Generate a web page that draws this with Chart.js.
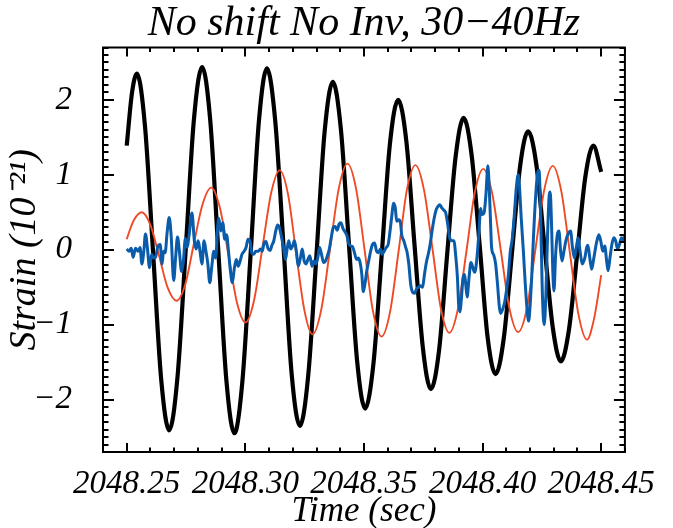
<!DOCTYPE html>
<html>
<head>
<meta charset="utf-8">
<script src="https://cdn.jsdelivr.net/npm/chart.js@4.4.1/dist/chart.umd.min.js"></script>
<style>
  html, body { margin: 0; padding: 0; background: #fff; }
</style>
</head>
<body>
<canvas id="myChart" width="673" height="528"></canvas>
<script>
// tick labels
const xTicks = [2048.25, 2048.30, 2048.35, 2048.40, 2048.45];
const yTicks = [-2, -1, 0, 1, 2];

// black curve
const blackTime = [
  2048.2500, 2048.2522, 2048.2543, 2048.2577, 2048.2611, 2048.2645, 2048.2679, 2048.2714, 2048.2749, 2048.2783,
  2048.2818, 2048.2852, 2048.2886, 2048.2920, 2048.2954, 2048.2988, 2048.3023, 2048.3057, 2048.3091, 2048.3126,
  2048.3161, 2048.3195, 2048.3230, 2048.3265, 2048.3300, 2048.3334, 2048.3369, 2048.3403, 2048.3437, 2048.3471,
  2048.3505, 2048.3540, 2048.3575, 2048.3609, 2048.3644, 2048.3679, 2048.3713, 2048.3748, 2048.3782, 2048.3817,
  2048.3851, 2048.3886, 2048.3920, 2048.3954, 2048.3988, 2048.4021, 2048.4055, 2048.4089, 2048.4124, 2048.4158,
  2048.4192, 2048.4227, 2048.4261, 2048.4296, 2048.4330, 2048.4364, 2048.4399, 2048.4433, 2048.4467, 2048.4500
];
const blackStrain = [
  1.39, 2.09, 2.35, 1.65, -0.03, -1.72, -2.41, -1.70, 0.02, 1.73,
  2.44, 1.73, -0.01, -1.74, -2.45, -1.74, -0.02, 1.71, 2.42, 1.72,
  0.04, -1.65, -2.35, -1.68, -0.06, 1.57, 2.24, 1.60, 0.06, -1.48,
  -2.12, -1.52, -0.06, 1.40, 2.00, 1.44, 0.07, -1.30, -1.86, -1.33,
  -0.05, 1.23, 1.76, 1.26, 0.05, -1.16, -1.66, -1.19, -0.04, 1.11,
  1.58, 1.13, 0.05, -1.04, -1.49, -1.07, -0.05, 0.97, 1.39, 1.04
];

// red curve
const redTime = [
  2048.2500, 2048.2515, 2048.2531, 2048.2563, 2048.2600, 2048.2637, 2048.2673, 2048.2710, 2048.2747, 2048.2783,
  2048.2820, 2048.2856, 2048.2892, 2048.2929, 2048.2965, 2048.3001, 2048.3037, 2048.3073, 2048.3109, 2048.3145,
  2048.3180, 2048.3214, 2048.3249, 2048.3283, 2048.3320, 2048.3357, 2048.3394, 2048.3431, 2048.3467, 2048.3503,
  2048.3538, 2048.3574, 2048.3610, 2048.3646, 2048.3681, 2048.3717, 2048.3753, 2048.3789, 2048.3824, 2048.3860,
  2048.3896, 2048.3932, 2048.3967, 2048.4003, 2048.4040, 2048.4077, 2048.4113, 2048.4150, 2048.4187, 2048.4223,
  2048.4260, 2048.4296, 2048.4332, 2048.4368, 2048.4404, 2048.4440, 2048.4470, 2048.4500
];
const redStrain = [
  0.14, 0.28, 0.40, 0.50, 0.33, -0.09, -0.51, -0.68, -0.46, 0.08,
  0.61, 0.83, 0.57, -0.07, -0.71, -0.97, -0.67, 0.05, 0.76, 1.06,
  0.74, -0.04, -0.81, -1.13, -0.80, 0.01, 0.82, 1.15, 0.81, -0.01,
  -0.82, -1.16, -0.83, -0.02, 0.80, 1.13, 0.80, 0.01, -0.78, -1.11,
  -0.79, -0.02, 0.76, 1.08, 0.76, -0.01, -0.78, -1.10, -0.78, 0.01,
  0.80, 1.12, 0.78, -0.04, -0.86, -1.20, -0.92, -0.34
];

// blue curve
const blueTime = [
  2048.2500, 2048.2510, 2048.2519, 2048.2527, 2048.2537, 2048.2548, 2048.2556, 2048.2564, 2048.2572, 2048.2579,
  2048.2587, 2048.2596, 2048.2605, 2048.2613, 2048.2621, 2048.2632, 2048.2641, 2048.2649, 2048.2655, 2048.2662,
  2048.2670, 2048.2679, 2048.2687, 2048.2698, 2048.2706, 2048.2714, 2048.2722, 2048.2731, 2048.2739, 2048.2747,
  2048.2755, 2048.2763, 2048.2775, 2048.2785, 2048.2793, 2048.2801, 2048.2809, 2048.2817, 2048.2826, 2048.2834,
  2048.2842, 2048.2850, 2048.2858, 2048.2867, 2048.2875, 2048.2883, 2048.2888, 2048.2896, 2048.2905, 2048.2913,
  2048.2921, 2048.2929, 2048.2937, 2048.2945, 2048.2954, 2048.2962, 2048.2970, 2048.2978, 2048.2986, 2048.2995,
  2048.3003, 2048.3011, 2048.3019, 2048.3027, 2048.3035, 2048.3044, 2048.3055, 2048.3063, 2048.3071, 2048.3079,
  2048.3087, 2048.3095, 2048.3104, 2048.3112, 2048.3120, 2048.3128, 2048.3136, 2048.3144, 2048.3153, 2048.3161,
  2048.3169, 2048.3177, 2048.3183, 2048.3191, 2048.3199, 2048.3207, 2048.3215, 2048.3223, 2048.3232, 2048.3240,
  2048.3248, 2048.3256, 2048.3264, 2048.3272, 2048.3281, 2048.3289, 2048.3297, 2048.3305, 2048.3313, 2048.3321,
  2048.3330, 2048.3338, 2048.3346, 2048.3354, 2048.3362, 2048.3371, 2048.3379, 2048.3387, 2048.3395, 2048.3403,
  2048.3411, 2048.3420, 2048.3428, 2048.3436, 2048.3444, 2048.3452, 2048.3460, 2048.3469, 2048.3477, 2048.3485,
  2048.3491, 2048.3497, 2048.3504, 2048.3512, 2048.3520, 2048.3528, 2048.3536, 2048.3545, 2048.3553, 2048.3561,
  2048.3569, 2048.3577, 2048.3585, 2048.3594, 2048.3602, 2048.3610, 2048.3618, 2048.3624, 2048.3632, 2048.3638,
  2048.3646, 2048.3654, 2048.3659, 2048.3668, 2048.3676, 2048.3681, 2048.3689, 2048.3697, 2048.3706, 2048.3714,
  2048.3722, 2048.3730, 2048.3738, 2048.3747, 2048.3755, 2048.3763, 2048.3771, 2048.3779, 2048.3787, 2048.3796,
  2048.3804, 2048.3812, 2048.3820, 2048.3828, 2048.3836, 2048.3845, 2048.3853, 2048.3861, 2048.3872, 2048.3880,
  2048.3885, 2048.3894, 2048.3899, 2048.3905, 2048.3910, 2048.3918, 2048.3924, 2048.3929, 2048.3935, 2048.3943,
  2048.3951, 2048.3959, 2048.3967, 2048.3975, 2048.3984, 2048.3992, 2048.3997, 2048.4006, 2048.4014, 2048.4019,
  2048.4022, 2048.4027, 2048.4033, 2048.4038, 2048.4047, 2048.4055, 2048.4063, 2048.4071, 2048.4076, 2048.4084,
  2048.4093, 2048.4101, 2048.4109, 2048.4117, 2048.4125, 2048.4134, 2048.4142, 2048.4150, 2048.4155, 2048.4163,
  2048.4172, 2048.4180, 2048.4188, 2048.4194, 2048.4199, 2048.4207, 2048.4215, 2048.4224, 2048.4232, 2048.4238,
  2048.4245, 2048.4251, 2048.4256, 2048.4260, 2048.4267, 2048.4274, 2048.4281, 2048.4285, 2048.4290, 2048.4296,
  2048.4301, 2048.4308, 2048.4315, 2048.4322, 2048.4329, 2048.4335, 2048.4343, 2048.4351, 2048.4362, 2048.4371,
  2048.4379, 2048.4387, 2048.4395, 2048.4403, 2048.4411, 2048.4420, 2048.4431, 2048.4439, 2048.4444, 2048.4452,
  2048.4460, 2048.4469, 2048.4480, 2048.4490, 2048.4498, 2048.4507, 2048.4515, 2048.4523, 2048.4529, 2048.4537,
  2048.4545, 2048.4553, 2048.4561, 2048.4569, 2048.4577, 2048.4586, 2048.4594, 2048.4599
];
const blueStrain = [
  0.01, -0.02, 0.02, -0.10, 0.02, -0.02, 0.03, -0.19, -0.02, 0.21,
  0.03, -0.24, -0.06, -0.11, -0.10, 0.05, 0.07, -0.19, -0.02, -0.04,
  0.22, 0.43, 0.20, -0.41, -0.11, 0.17, -0.02, -0.29, -0.15, 0.15,
  0.03, 0.20, 0.49, 0.12, 0.01, 0.12, -0.02, -0.19, 0.12, -0.02,
  -0.19, -0.44, -0.24, -0.02, -0.11, 0.29, 0.42, 0.25, 0.36, 0.14,
  0.20, -0.02, -0.28, -0.44, -0.24, -0.13, -0.22, -0.15, -0.06, -0.02,
  0.03, 0.14, 0.12, -0.04, -0.06, -0.02, -0.02, 0.01, -0.02, 0.09,
  0.11, 0.02, -0.01, 0.06, 0.12, 0.25, 0.33, 0.29, 0.16, 0.03,
  -0.13, 0.03, 0.12, 0.01, 0.05, 0.12, -0.02, -0.22, -0.11, 0.01,
  -0.15, -0.19, -0.13, -0.08, -0.22, -0.15, -0.19, -0.11, 0.03, -0.06,
  -0.17, -0.15, -0.08, 0.01, 0.16, 0.30, 0.31, 0.26, 0.34, 0.36,
  0.29, 0.24, 0.19, 0.08, 0.05, 0.04, -0.04, -0.13, -0.11, -0.19,
  -0.33, -0.56, -0.46, -0.28, -0.15, -0.02, 0.07, 0.09, -0.02, -0.04,
  0.01, -0.06, -0.02, 0.03, 0.07, 0.25, 0.47, 0.62, 0.56, 0.38,
  0.40, 0.36, 0.20, 0.12, 0.03, -0.02, -0.19, -0.46, -0.57, -0.58,
  -0.52, -0.50, -0.48, -0.50, -0.33, -0.17, -0.06, 0.07, 0.25, 0.42,
  0.53, 0.58, 0.60, 0.56, 0.53, 0.49, 0.34, 0.16, 0.12, 0.12,
  -0.02, -0.37, -0.72, -0.83, -0.68, -0.37, -0.33, -0.46, -0.63, -0.37,
  -0.17, -0.24, -0.30, -0.15, 0.20, 0.55, 0.47, 0.49, 0.73, 1.00,
  1.12, 0.91, 0.42, 0.03, -0.07, -0.19, -0.46, -0.77, -0.85, -0.80,
  -0.70, -0.54, -0.33, -0.02, 0.14, 0.47, 0.82, 1.00, 0.87, 0.42,
  -0.02, -0.46, -0.81, -0.95, -0.81, -0.37, 0.20, 0.73, 1.02, 1.06,
  0.42, -0.46, -0.90, -1.00, -0.59, 0.20, 0.73, 0.77, 0.42, -0.28,
  -0.55, -0.06, 0.20, 0.25, -0.02, -0.15, -0.02, 0.12, 0.22, 0.25,
  0.03, -0.11, 0.03, 0.16, -0.02, -0.19, -0.11, 0.03, 0.06, -0.11,
  -0.26, -0.11, 0.09, 0.20, 0.12, -0.02, 0.05, -0.15, -0.28, -0.11,
  0.07, 0.16, 0.12, 0.01, 0.07, 0.16, 0.12, 0.18
];

const serif = "'Liberation Serif', 'Times New Roman', serif";

function points(times, values) {
    return times.map((t, i) => ({ x: t, y: values[i] }));
}

function minusLabel(v) {
    return v < 0 ? '\u2212' + Math.abs(v) : String(v);
}

// box round the plot with inward major and minor ticks on all four sides
const frame = {
    id: 'frame',
    afterDraw(chart) {
        const ctx = chart.ctx;
        const a = chart.chartArea;
        const x = chart.scales.x;
        const y = chart.scales.y;
        ctx.save();
        ctx.strokeStyle = '#000';
        ctx.lineWidth = 2;
        ctx.beginPath();
        for (let i = 0; i <= 22; i++) {
            const px = Math.round(x.getPixelForValue(x.min + i * 0.01));
            const len = (i % 5 === 1) ? 9 : 4.5;
            ctx.moveTo(px, a.bottom); ctx.lineTo(px, a.bottom - len);
            ctx.moveTo(px, a.top); ctx.lineTo(px, a.top + len);
        }
        for (let i = 0; i <= 54; i++) {
            const py = Math.round(y.getPixelForValue(y.min + i * 0.1));
            const len = (i % 10 === 7) ? 11 : 5.5;
            ctx.moveTo(a.left, py); ctx.lineTo(a.left + len, py);
            ctx.moveTo(a.right, py); ctx.lineTo(a.right - len, py);
        }
        ctx.stroke();
        ctx.strokeRect(a.left, a.top, a.right - a.left, a.bottom - a.top);
        ctx.restore();
    }
};

const ctx = document.getElementById('myChart').getContext('2d');
const myChart = new Chart(ctx, {
    type: 'line',
    data: {
        datasets: [{
                label: 'blue',
                data: points(blueTime, blueStrain),
                borderColor: '#0a5cab',
                borderWidth: 3,
                order: 0
            }, {
                label: 'red',
                data: points(redTime, redStrain),
                borderColor: '#ef4a26',
                borderWidth: 1.9,
                order: 1
            }, {
                label: 'black',
                data: points(blackTime, blackStrain),
                borderColor: '#000000',
                borderWidth: 4.2,
                order: 2
            }]
    },
    options: {
        responsive: false,
        animation: false,
        devicePixelRatio: 1,
        layout: { padding: { left: 0, right: 32, top: 0, bottom: 0 } },
        elements: {
            point: { radius: 0 },
            line: { cubicInterpolationMode: 'monotone', borderJoinStyle: 'round', borderCapStyle: 'butt' }
        },
        plugins: {
            legend: { display: false },
            tooltip: { enabled: false },
            title: {
                display: true,
                fullSize: false,
                text: 'No shift No Inv, 30\u221240Hz',
                color: '#000',
                font: { family: serif, size: 42, style: 'italic', weight: 'normal', lineHeight: 1 },
                padding: { top: 0, bottom: 3 }
            }
        },
        scales: {
            x: {
                type: 'linear',
                min: 2048.24,
                max: 2048.46,
                grid: { display: false, drawTicks: false },
                border: { display: false },
                afterBuildTicks: (s) => { s.ticks = xTicks.map(v => ({ value: v })); },
                afterFit: (s) => { s.height = 76; },
                ticks: {
                    color: '#000',
                    padding: 16,
                    maxRotation: 0,
                    autoSkip: false,
                    font: { family: serif, size: 33, style: 'italic', lineHeight: 1 },
                    callback: (v) => v.toFixed(2)
                },
                title: {
                    display: true,
                    text: 'Time (sec)',
                    color: '#000',
                    font: { family: serif, size: 35, style: 'italic', lineHeight: 1 },
                    padding: { top: 0, bottom: -1 }
                }
            },
            y: {
                type: 'linear',
                min: -2.7,
                max: 2.7,
                grid: { display: false, drawTicks: false },
                border: { display: false },
                afterBuildTicks: (s) => { s.ticks = yTicks.map(v => ({ value: v })); },
                afterFit: (s) => { s.width = 103; },
                ticks: {
                    color: '#000',
                    padding: 31,
                    font: { family: serif, size: 33, style: 'italic', lineHeight: 1 },
                    callback: minusLabel
                },
                title: {
                    display: true,
                    text: 'Strain (10\u207b\u00b2\u00b9)',
                    color: '#000',
                    font: { family: serif, size: 38, style: 'italic', lineHeight: 1 },
                    padding: { top: 6, bottom: 0 }
                }
            }
        }
    },
    plugins: [frame]
});
</script>
</body>
</html>
